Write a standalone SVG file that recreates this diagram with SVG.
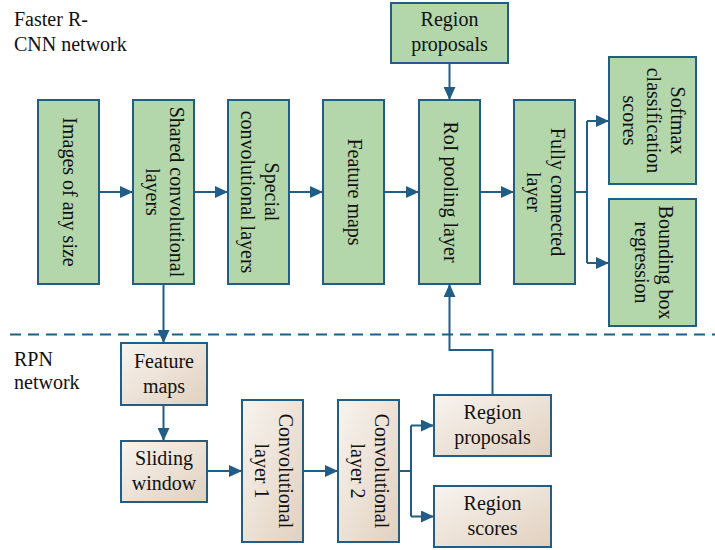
<svg xmlns="http://www.w3.org/2000/svg" width="715" height="550" viewBox="0 0 715 550" font-family="'Liberation Serif', 'Times New Roman', serif">
<style>
text{font-family:'Liberation Serif','Times New Roman',serif;font-size:20px;fill:#111}
.g{fill:#b3d7ab;stroke:#215d85;stroke-width:2}
.t{fill:url(#tan);stroke:#215d85;stroke-width:2}
.c{fill:none;stroke:#215d85;stroke-width:2}
.m text,.m{text-anchor:middle}
</style>
<defs>
<linearGradient id="tan" x1="0" y1="0" x2="1" y2="1">
<stop offset="0" stop-color="#f8f4f0"/>
<stop offset="1" stop-color="#e1d0be"/>
</linearGradient>
<marker id="a" markerUnits="userSpaceOnUse" markerWidth="13" markerHeight="12" refX="13" refY="6" orient="auto">
<path d="M0,0 L13,6 L0,12 z" fill="#215d85"/>
</marker>
</defs>

<text x="14" y="26">Faster R-</text>
<text x="14" y="50.5">CNN network</text>
<text x="14" y="366">RPN</text>
<text x="14" y="389">network</text>

<line x1="10" y1="334.5" x2="715" y2="334.5" stroke="#215d85" stroke-width="2" stroke-dasharray="11 7"/>

<g id="connectors" class="c">
<path d="M99,192 H133" marker-end="url(#a)"/>
<path d="M194,192 H228" marker-end="url(#a)"/>
<path d="M289,192 H323" marker-end="url(#a)"/>
<path d="M384,192 H419" marker-end="url(#a)"/>
<path d="M480,192 H514" marker-end="url(#a)"/>
<path d="M575,192 H587 M587,121 V263"/>
<path d="M587,121 H609" marker-end="url(#a)"/>
<path d="M587,263 H609" marker-end="url(#a)"/>
<path d="M449.5,63 V100" marker-end="url(#a)"/>
<path d="M163.5,284 V343" marker-end="url(#a)"/>
<path d="M163.5,405 V441" marker-end="url(#a)"/>
<path d="M207,471 H242" marker-end="url(#a)"/>
<path d="M303,471 H338" marker-end="url(#a)"/>
<path d="M399,471 H411 M411,425.5 V516.5"/>
<path d="M411,425.5 H434" marker-end="url(#a)"/>
<path d="M411,516.5 H434" marker-end="url(#a)"/>
<path d="M492.5,395 V350 H449.5 V284" marker-end="url(#a)"/>
</g>

<g id="images">
<rect class="g" x="38" y="100" width="61" height="184"/>
<g class="m" transform="translate(68.5,192) rotate(90)"><text y="6">Images of any size</text></g>
</g>
<g id="shared">
<rect class="g" x="133" y="100" width="61" height="184"/>
<g class="m" transform="translate(163.5,192) rotate(90)"><text y="-6">Shared convolutional</text><text y="18">layers</text></g>
</g>
<g id="special">
<rect class="g" x="228" y="100" width="61" height="184"/>
<g class="m" transform="translate(258.5,192) rotate(90)"><text y="-6">Special</text><text y="18">convolutional layers</text></g>
</g>
<g id="featuremaps">
<rect class="g" x="323" y="100" width="61" height="184"/>
<g class="m" transform="translate(353.5,192) rotate(90)"><text y="6">Feature maps</text></g>
</g>
<g id="roi">
<rect class="g" x="419" y="100" width="61" height="184"/>
<g class="m" transform="translate(449.5,192) rotate(90)"><text y="6">RoI pooling layer</text></g>
</g>
<g id="fc">
<rect class="g" x="514" y="100" width="61" height="184"/>
<g class="m" transform="translate(544.5,192) rotate(90)"><text y="-6">Fully connected</text><text y="18">layer</text></g>
</g>
<g id="regionproposals-top">
<rect class="g" x="391" y="3" width="117" height="60"/>
<g class="m"><text x="449.5" y="26">Region</text><text x="449.5" y="50.5">proposals</text></g>
</g>
<g id="softmax">
<rect class="g" x="609" y="57" width="87" height="127"/>
<g class="m" transform="translate(652.5,120.5) rotate(90)"><text y="-18">Softmax</text><text y="6">classification</text><text y="30">scores</text></g>
</g>
<g id="bbox">
<rect class="g" x="609" y="199" width="87" height="127"/>
<g class="m" transform="translate(652.5,262.5) rotate(90)"><text y="-6">Bounding box</text><text y="18">regression</text></g>
</g>

<g id="rpn-featuremaps">
<rect class="t" x="121" y="343" width="86" height="62"/>
<g class="m"><text x="164" y="368">Feature</text><text x="164" y="392.5">maps</text></g>
</g>
<g id="sliding">
<rect class="t" x="121" y="441" width="86" height="61"/>
<g class="m"><text x="164" y="465">Sliding</text><text x="164" y="489.5">window</text></g>
</g>
<g id="conv1">
<rect class="t" x="242" y="400" width="61" height="142"/>
<g class="m" transform="translate(272.5,471) rotate(90)"><text y="-6">Convolutional</text><text y="18">layer 1</text></g>
</g>
<g id="conv2">
<rect class="t" x="338" y="400" width="61" height="142"/>
<g class="m" transform="translate(368.5,471) rotate(90)"><text y="-6">Convolutional</text><text y="18">layer 2</text></g>
</g>
<g id="rpn-regionproposals">
<rect class="t" x="434" y="395" width="117" height="61"/>
<g class="m"><text x="492.5" y="419">Region</text><text x="492.5" y="443.5">proposals</text></g>
</g>
<g id="regionscores">
<rect class="t" x="434" y="486" width="117" height="61"/>
<g class="m"><text x="492.5" y="510">Region</text><text x="492.5" y="534.5">scores</text></g>
</g>
</svg>
